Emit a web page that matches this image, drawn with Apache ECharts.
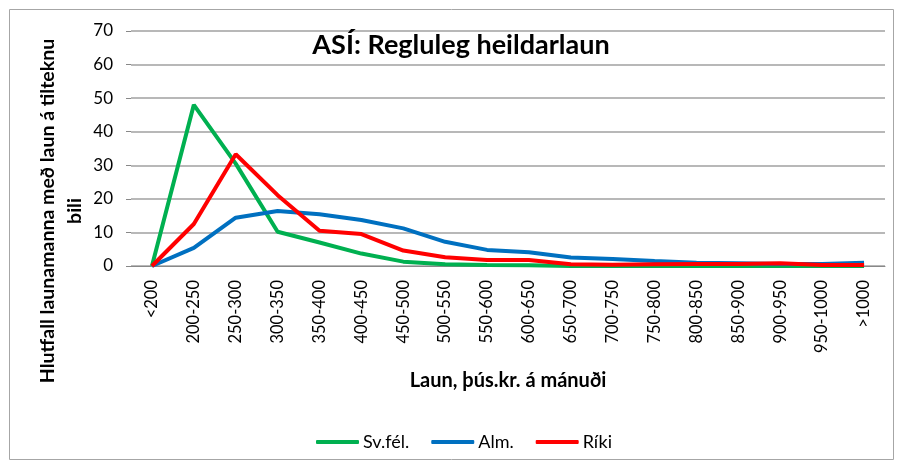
<!DOCTYPE html>
<html>
<head>
<meta charset="utf-8">
<script src="https://cdn.jsdelivr.net/npm/echarts@6/dist/echarts.min.js"></script>
<style>
  html, body { margin: 0; padding: 0; background: #fff; }
  #chart { width: 898px; height: 464px; }
</style>
</head>
<body>
<div id="chart"></div>
<script>
// launabil, þús.kr.
const categories = ['<200', '200-250', '250-300', '300-350', '350-400', '400-450', '450-500',
  '500-550', '550-600', '600-650', '650-700', '700-750', '750-800', '800-850', '850-900',
  '900-950', '950-1000', '>1000']
const svfel = [0, 48, 30.5, 10.2, 7, 3.7, 1.3, 0.5, 0.3, 0.2, 0, 0, 0, 0, 0, 0, 0, 0]
const alm = [0, 5.4, 14.4, 16.4, 15.4, 13.7, 11.2, 7.2, 4.8, 4.1, 2.5, 2.1, 1.5, 1.0, 0.8, 0.6, 0.6, 1.0]
const riki = [0, 12.5, 33.3, 21.1, 10.5, 9.5, 4.6, 2.6, 1.8, 1.8, 0.5, 0.4, 0.5, 0.6, 0.6, 0.8, 0.3, 0.3]
const yTicks = { min: 0, max: 70, interval: 10 }

const font = 'Lato, "Open Sans", sans-serif'
const chart = echarts.init(document.getElementById('chart'))
const option = {
  animation: false,
  textStyle: { fontFamily: font },
  title: {
    text: 'ASÍ: Regluleg heildarlaun',
    left: 456,
    textAlign: 'center',
    top: 27,
    textStyle: { fontFamily: font, fontSize: 27, fontWeight: 'bold', color: '#000' }
  },
  grid: { left: 131, right: 13, top: 31, bottom: 198 },
  legend: {
    top: 428,
    left: 311,
    itemWidth: 43,
    itemHeight: 4,
    itemGap: 22,
    icon: 'roundRect',
    textStyle: { fontSize: 18, color: '#000', fontFamily: font, padding: [0, 0, 0, -1] },
    data: ['Sv.fél.', 'Alm.', 'Ríki']
  },
  xAxis: {
    type: 'category',
    data: categories,
    boundaryGap: true,
    name: 'Laun, þús.kr. á mánuði',
    nameLocation: 'middle',
    nameGap: 105,
    nameTextStyle: { fontSize: 20, fontWeight: 'bold', color: '#000' },
    axisLine: { lineStyle: { color: '#888', width: 1 } },
    axisTick: { show: false },
    axisLabel: { rotate: 90, fontSize: 16.5, color: '#000', margin: 14, interval: 0 }
  },
  yAxis: {
    type: 'value',
    min: yTicks.min,
    max: yTicks.max,
    interval: yTicks.interval,
    axisLine: { show: false },
    axisTick: { show: true, length: 5, lineStyle: { color: '#888' } },
    axisLabel: { fontSize: 17, color: '#000', margin: 18 },
    splitLine: { lineStyle: { color: '#a0a0a0', width: 1.5 } }
  },
  graphic: [
    {
      type: 'rect',
      left: 7, top: 7,
      shape: { width: 884, height: 450 },
      style: { fill: 'none', stroke: '#a6a6a6', lineWidth: 1 },
      silent: true
    },
    {
      type: 'text',
      x: 61, y: 211,
      rotation: Math.PI / 2,
      style: {
        text: 'Hlutfall launamanna með laun á tilteknu\nbili',
        fontSize: 19.5,
        fontWeight: 'bold',
        fontFamily: font,
        fill: '#000',
        align: 'center',
        verticalAlign: 'middle',
        lineHeight: 27
      }
    }
  ],
  series: [
    { name: 'Sv.fél.', type: 'line', data: svfel, showSymbol: false, color: '#00b050', lineStyle: { width: 4 } },
    { name: 'Alm.', type: 'line', data: alm, showSymbol: false, color: '#0070c0', lineStyle: { width: 4 } },
    { name: 'Ríki', type: 'line', data: riki, showSymbol: false, color: '#ff0000', lineStyle: { width: 4 } }
  ]
}
chart.setOption(option)
</script>
</body>
</html>
